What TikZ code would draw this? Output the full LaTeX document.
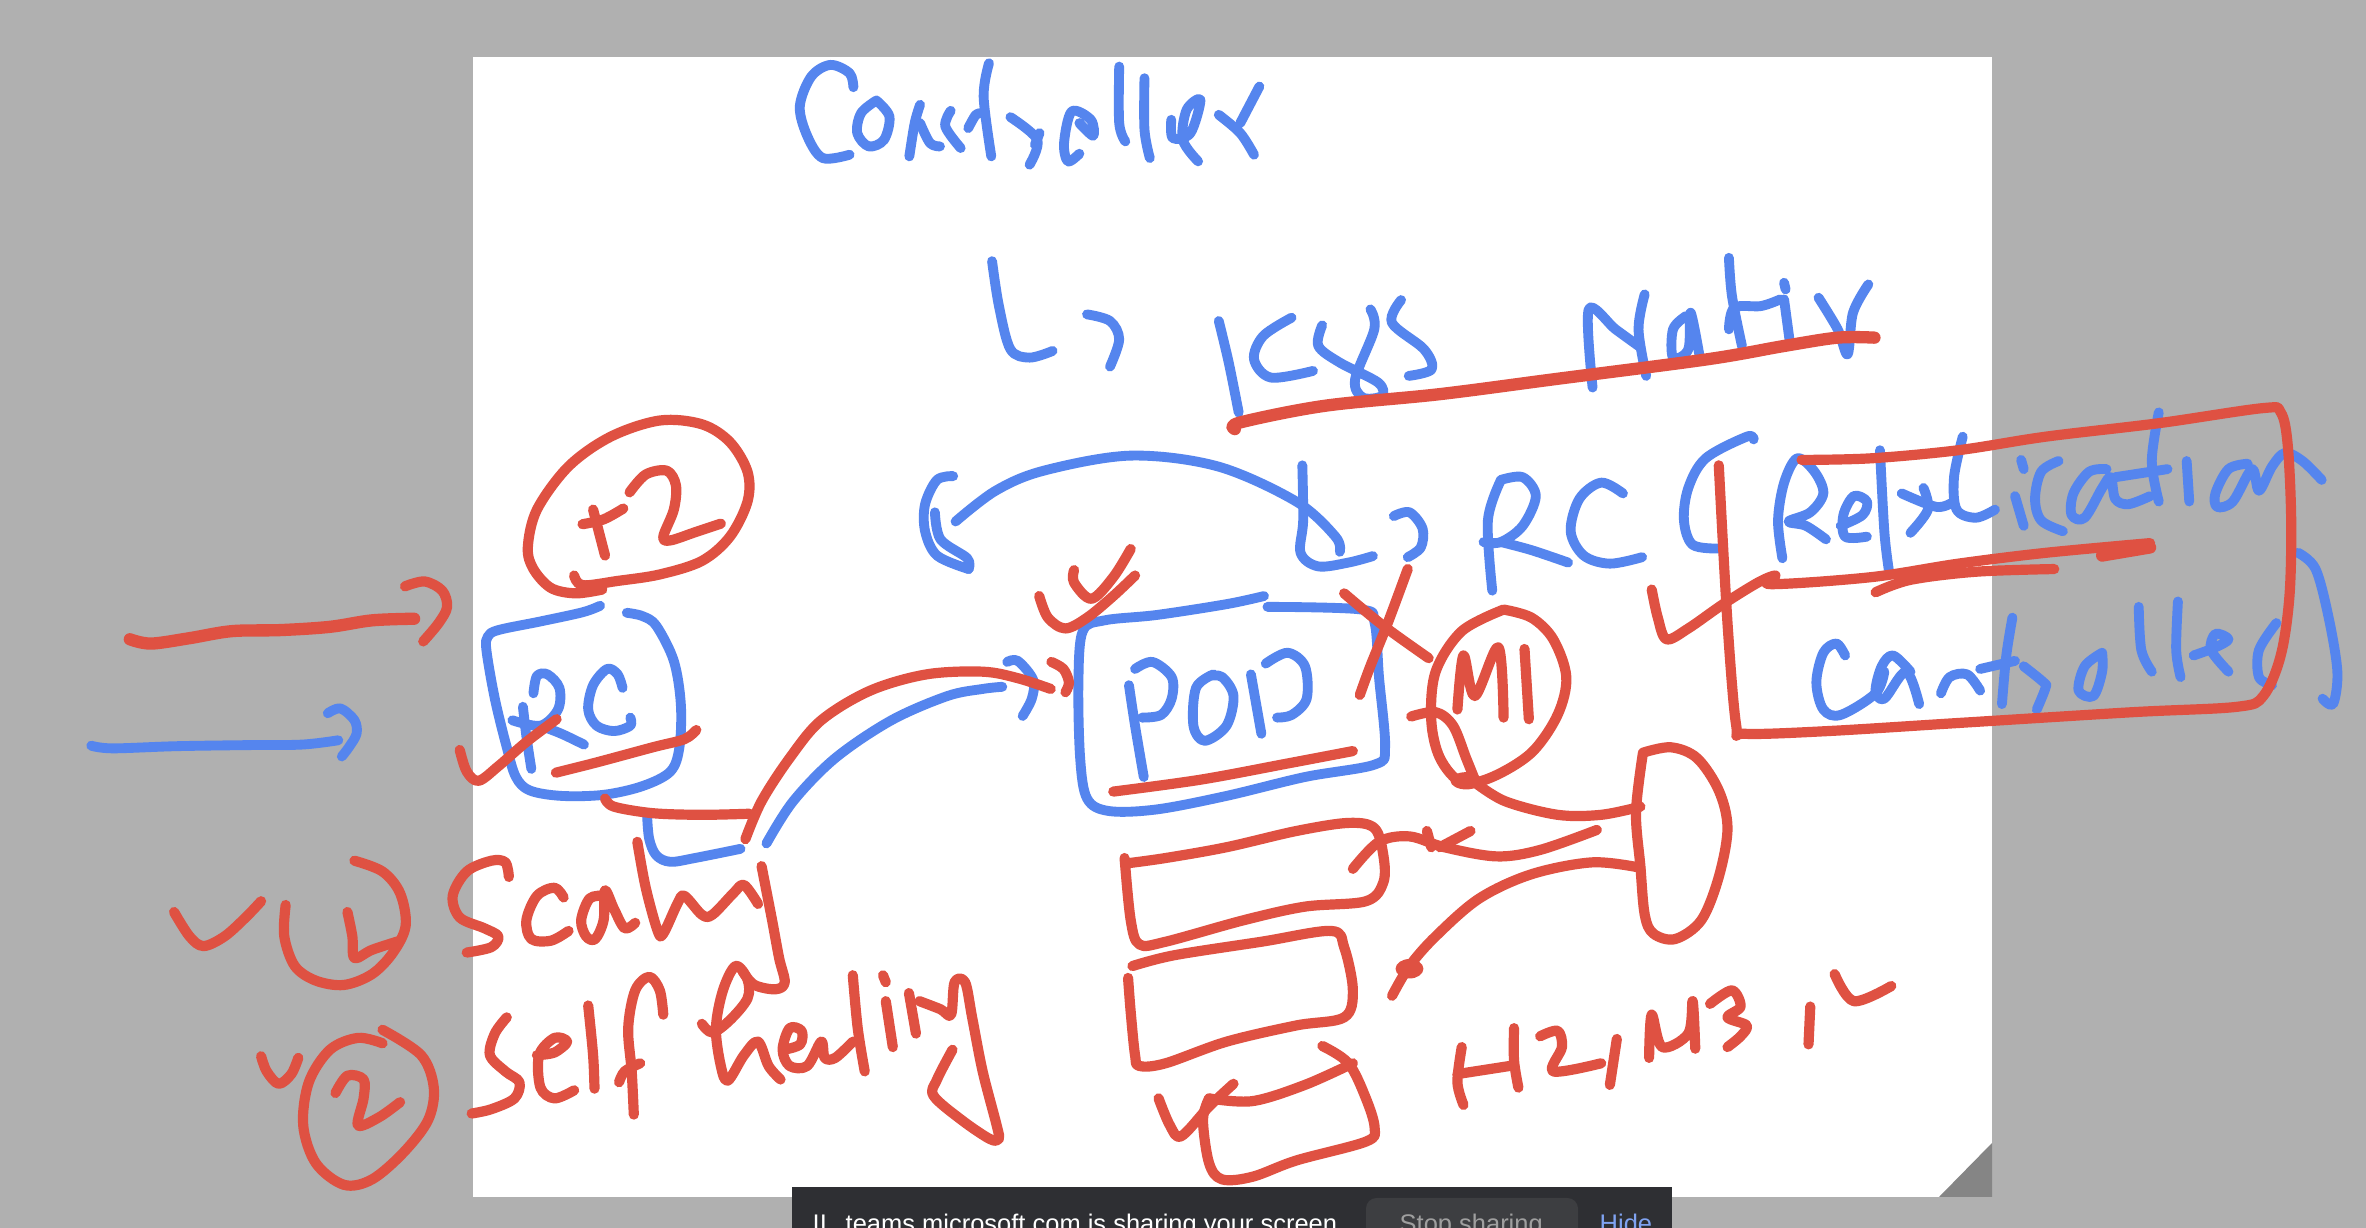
\documentclass[tikz,border=0pt]{standalone}
\usepackage{fontspec}
\setmainfont{Liberation Sans}
\definecolor{inkred}{HTML}{DF5142}
\definecolor{inkblue}{HTML}{5585EE}
\definecolor{deskgray}{HTML}{B0B0B0}
\definecolor{foldgray}{HTML}{858585}
\definecolor{barcol}{HTML}{2E2F33}
\definecolor{btncol}{HTML}{3D3E41}
\newcommand\stk[2]{\draw[#1] plot[smooth,tension=.55] coordinates {#2};}
\tikzset{
  rd/.style={draw=inkred,line width=2.9pt,line cap=round,line join=round},
  rdthick/.style={draw=inkred,line width=3.5pt,line cap=round,line join=round},
  bl/.style={draw=inkblue,line width=2.8pt,line cap=round,line join=round},
  zoomA/.style={shift={(0cm,-3.8cm)},x=0.007015cm,y=-0.005408cm},
  zoomB/.style={shift={(10cm,-3.8cm)},x=0.008712cm,y=-0.005408cm},
  zoomC/.style={shift={(7.5cm,-0.3cm)},x=0.007653cm,y=-0.003333cm},
  bartext/.style={font=\fontsize{7.25pt}{8pt}\selectfont,inner sep=0pt,anchor=base west}
}
\begin{document}
\begin{tikzpicture}
\useasboundingbox (0,0) rectangle (23.66,-12.28);
\clip (0,0) rectangle (23.66,-12.28);
\fill[deskgray] (0,0) rectangle (23.66,-12.28);
\fill[white] (4.73,-0.57) rectangle (19.92,-11.97);
\fill[foldgray] (19.39,-11.97) -- (19.92,-11.97) -- (19.92,-11.43) -- cycle;

% ---------- blue ink
\begin{scope}[zoomA]
\stk{bl}{(130,677) (160,682) (250,678) (350,676) (430,675) (482,667)}
\stk{bl}{(467,617) (485,608) (505,630) (508,655) (497,680) (487,697)}
\stk{bl}{(855,418) (830,430) (770,447) (710,463) (695,475) (693,500) (705,590) (722,680) (735,735) (755,760) (800,770) (860,768) (915,752) (955,725) (968,680) (970,600) (960,520) (935,455) (915,437) (893,431)}
\stk{bl}{(922,808) (925,850) (935,880) (955,892) (990,885) (1055,868)}
\stk{bl}{(745,605) (750,660) (757,720)}
\stk{bl}{(760,580) (765,548) (780,545) (797,570) (795,610) (770,640) (730,630)}
\stk{bl}{(770,640) (800,655) (832,675)}
\stk{bl}{(887,570) (880,545) (865,535) (845,565) (838,610) (850,640) (875,650) (898,640) (898,625)}
\stk{bl}{(1092,858) (1130,780) (1190,700) (1270,630) (1350,585) (1400,572) (1428,568)}
\stk{bl}{(1435,522) (1450,520) (1472,555) (1470,590) (1457,622)}
\stk{bl}{(1358,178) (1335,185) (1318,230) (1318,280) (1335,325) (1380,350)}
\stk{bl}{(1332,245) (1340,295) (1378,330) (1380,350)}
\end{scope}
\begin{scope}[zoomB]
\stk{bl}{(-51,262) (-5,205) (50,168) (150,140) (250,160) (340,225) (385,290) (390,318)}
\stk{bl}{(347,158) (348,260) (345,320) (365,345) (400,338) (428,326)}
\stk{bl}{(452,252) (470,245) (485,275) (483,310) (468,328)}
\stk{bl}{(575,185) (560,260) (565,390)}
\stk{bl}{(575,185) (600,180) (615,215) (600,270) (575,300) (555,300)}
\stk{bl}{(575,300) (610,315) (652,338)}
\stk{bl}{(715,210) (690,190) (665,220) (655,280) (670,325) (700,340) (737,328)}
\stk{bl}{(865,110) (857,105) (810,145) (790,200) (785,260) (795,305) (825,312)}
\stk{bl}{(898,330) (893,260) (900,190) (915,145) (935,170) (945,210) (930,245) (905,262) (925,270) (948,295)}
\stk{bl}{(965,270) (990,250) (995,225) (980,215) (968,250) (970,290) (995,290)}
\stk{bl}{(1010,130) (1015,280) (1020,350)}
\stk{bl}{(1060,200) (1065,240) (1045,283)}
\stk{bl}{(1035,210) (1075,235) (1095,225)}
\stk{bl}{(1105,105) (1095,180) (1098,240) (1120,255) (1142,240)}
\stk{bl}{(1165,215) (1175,270)}
\stk{bl}{(1172,148) (1175,165)}
\stk{bl}{(1215,150) (1195,170) (1188,220) (1195,260) (1220,280)}
\stk{bl}{(1270,165) (1250,170) (1232,210) (1230,250) (1245,255) (1265,200) (1275,180) (1280,220) (1295,230) (1320,215)}
\stk{bl}{(1330,60) (1322,150) (1330,225)}
\stk{bl}{(1280,180) (1340,165)}
\stk{bl}{(1362,150) (1365,225)}
\stk{bl}{(1432,155) (1410,165) (1395,210) (1397,235) (1415,225) (1437,165) (1445,205) (1460,160) (1475,135) (1495,150) (1517,185)}
\stk{bl}{(970,510) (960,488) (945,505) (937,560) (945,610) (965,620) (1005,580) (1015,540)}
\stk{bl}{(1045,540) (1025,510) (1012,530) (1005,575) (1015,590) (1040,540) (1055,600)}
\stk{bl}{(1080,580) (1090,550) (1110,545) (1125,575)}
\stk{bl}{(1162,440) (1155,510) (1150,600)}
\stk{bl}{(1125,535) (1165,520)}
\stk{bl}{(1175,530) (1198,560) (1200,570) (1190,610)}
\stk{bl}{(1265,505) (1245,530) (1238,575) (1255,585) (1265,540) (1265,505)}
\stk{bl}{(1307,420) (1310,500) (1322,540)}
\stk{bl}{(1352,410) (1350,500) (1355,550)}
\stk{bl}{(1370,510) (1395,495) (1410,480) (1395,470) (1390,500) (1410,540)}
\stk{bl}{(1465,450) (1445,500) (1445,550) (1460,565)}
\stk{bl}{(1490,320) (1510,350) (1525,440) (1535,540) (1530,600) (1518,590)}
\stk{bl}{(303,400) (260,415) (180,435) (120,445) (95,465) (90,560) (92,700) (100,775) (125,798) (180,795) (260,770) (350,735) (430,712) (442,680) (435,550) (430,450) (415,425) (307,420)}
\stk{bl}{(148,565) (155,640) (165,735)}
\stk{bl}{(155,535) (175,522) (197,550) (197,590) (185,620) (163,625)}
\stk{bl}{(245,545) (225,570) (222,640) (235,668) (260,640) (268,585) (255,550) (240,548)}
\stk{bl}{(288,545) (300,655)}
\stk{bl}{(305,525) (330,505) (350,530) (352,590) (335,620) (318,625)}
\end{scope}
\begin{scope}[zoomC]
\stk{bl}{(135,172) (130,130) (105,105) (80,140) (65,230) (75,320) (95,385) (130,375)}
\stk{bl}{(165,212) (145,250) (140,310) (155,350) (175,330) (182,260) (165,212)}
\stk{bl}{(208,380) (215,280) (222,225)}
\stk{bl}{(222,280) (235,340) (248,350)}
\stk{bl}{(262,243) (255,290) (275,355)}
\stk{bl}{(285,295) (295,255) (305,250)}
\stk{bl}{(312,100) (305,200) (315,380)}
\stk{bl}{(340,262) (375,330) (365,405)}
\stk{bl}{(378,310) (372,345)}
\stk{bl}{(430,372) (415,395) (410,340) (420,245) (445,270) (448,318) (430,280)}
\stk{bl}{(482,110) (482,280) (490,335)}
\stk{bl}{(515,145) (515,300) (522,385)}
\stk{bl}{(550,270) (552,325) (575,310) (588,210) (570,240) (565,330) (585,395)}
\stk{bl}{(612,255) (640,310) (658,375)}
\stk{bl}{(665,170) (640,280)}
\stk{bl}{(316,695) (325,830) (340,960) (365,985) (395,965)}
\stk{bl}{(440,855) (470,875) (482,930) (470,1012)}
\stk{bl}{(612,875) (625,1000) (638,1150)}
\stk{bl}{(707,865) (670,920) (658,990) (680,1045) (735,1025)}
\stk{bl}{(747,888) (742,950) (770,1000) (820,1060) (825,1100) (800,1105) (790,1050) (815,900) (810,840)}
\stk{bl}{(850,812) (838,880) (880,960) (890,1020) (860,1040)}
\stk{bl}{(1100,1075) (1095,840) (1130,900) (1160,950)}
\stk{bl}{(1168,795) (1160,900) (1170,1040)}
\stk{bl}{(1222,860) (1205,900) (1205,985) (1225,960) (1228,850) (1240,985)}
\stk{bl}{(1278,685) (1282,800) (1295,950)}
\stk{bl}{(1278,900) (1285,835) (1320,830) (1345,810)}
\stk{bl}{(1350,810) (1357,930)}
\stk{bl}{(1350,760) (1352,780)}
\stk{bl}{(1395,805) (1420,900) (1433,975) (1440,850) (1460,765)}
\end{scope}

% ---------- red ink
\begin{scope}[zoomC]
\stk{rdthick}{(633,1200) (640,1180) (750,1130) (900,1095) (1050,1050) (1250,990) (1350,950) (1420,925) (1468,925)}
\end{scope}
\begin{scope}[zoomA]
\stk{rdthick}{(185,480) (215,488) (270,478) (330,465) (400,463) (470,457) (530,445) (590,442)}
\stk{rd}{(577,382) (605,373) (630,390) (637,420) (625,450) (603,484)}
\stk{rd}{(858,388) (820,395) (785,385) (760,350) (752,310) (765,240) (810,160) (870,105) (940,75) (1000,82) (1040,115) (1065,170) (1065,225) (1040,290) (1000,335) (940,360) (880,372) (830,380) (818,362)}
\stk{rd}{(845,240) (853,280) (862,325)}
\stk{rd}{(830,267) (860,258) (888,238)}
\stk{rd}{(897,208) (920,175) (950,168) (963,195) (960,240) (945,290) (955,297) (990,282) (1027,266)}
\stk{rd}{(655,685) (665,725) (682,742) (710,715) (750,670) (793,628)}
\stk{rd}{(792,727) (850,708) (930,680) (975,665) (992,648)}
\stk{rd}{(862,775) (875,790) (930,802) (1000,805) (1068,803)}
\stk{rd}{(1062,850) (1085,780) (1125,700) (1170,630) (1240,575) (1320,545) (1400,540) (1450,552) (1497,572)}
\stk{rd}{(1498,522) (1515,535) (1523,560) (1518,578)}
\stk{rd}{(248,985) (270,1030) (290,1048) (320,1030) (350,995) (372,965)}
\stk{rd}{(407,972) (405,1030) (420,1085) (450,1112) (490,1120) (530,1100) (560,1060) (578,1010) (570,950) (545,910) (505,890)}
\stk{rd}{(495,985) (502,1030) (505,1070) (530,1055) (570,1038)}
\stk{rd}{(725,920) (720,893) (700,890) (665,910) (645,955) (655,995) (690,1015) (710,1030) (700,1050) (665,1060)}
\stk{rd}{(803,958) (790,940) (765,955) (750,1000) (757,1035) (785,1038) (810,1020)}
\stk{rd}{(860,955) (840,960) (828,1000) (835,1030) (848,1035) (860,1000) (862,945) (875,980) (890,1015) (905,1005)}
\stk{rd}{(908,855) (920,940) (937,1020) (945,1025) (965,970) (975,955) (1000,990) (1015,990) (1045,950) (1060,935) (1080,970)}
\stk{rd}{(1085,900) (1100,1000) (1110,1070) (1118,1115) (1105,1128) (1075,1120) (1058,1095)}
\stk{rd}{(1000,1192) (1015,1208) (1040,1185) (1065,1145) (1065,1110) (1048,1085) (1030,1130) (1020,1200) (1027,1270) (1037,1297) (1060,1250) (1080,1225) (1095,1270) (1112,1295)}
\stk{rd}{(1117,1240) (1140,1230) (1142,1205) (1125,1200) (1115,1240) (1125,1270) (1150,1270) (1170,1225) (1175,1255) (1190,1255) (1215,1225)}
\stk{rd}{(1215,1102) (1222,1200) (1232,1280)}
\stk{rd}{(1262,1150) (1272,1235)}
\stk{rd}{(1258,1102) (1262,1115)}
\stk{rd}{(1295,1135) (1305,1210)}
\stk{rd}{(1310,1150) (1340,1165) (1355,1175) (1360,1115) (1375,1115) (1385,1180) (1400,1280) (1420,1380) (1423,1405) (1410,1405) (1370,1370) (1330,1325) (1335,1295) (1357,1240)}
\stk{rd}{(722,1180) (705,1210) (698,1250) (720,1280) (740,1300) (733,1330) (700,1350) (672,1358)}
\stk{rd}{(765,1250) (790,1245) (808,1225) (790,1218) (768,1250) (770,1310) (790,1330) (818,1315)}
\stk{rd}{(838,1158) (845,1250) (847,1312)}
\stk{rd}{(945,1175) (940,1130) (925,1105) (905,1130) (895,1200) (900,1280) (903,1360)}
\stk{rd}{(882,1300) (890,1280) (912,1265)}
\stk{rd}{(372,1252) (380,1280) (397,1303) (415,1285) (425,1255)}
\stk{rd}{(545,1228) (510,1218) (470,1240) (440,1300) (432,1380) (450,1450) (490,1490) (530,1480) (575,1430) (610,1370) (618,1310) (600,1250) (545,1203)}
\stk{rd}{(478,1320) (495,1288) (518,1295) (518,1330) (510,1380) (540,1365) (570,1337)}
\end{scope}
\begin{scope}[zoomB]
\stk{rd}{(920,148) (1000,145) (1100,130) (1200,105) (1330,80) (1450,52) (1470,60) (1478,120) (1482,260) (1480,400) (1470,510) (1450,585) (1420,605) (1300,615) (1100,635) (950,650) (855,655) (845,640) (835,450) (825,158)}
\stk{rd}{(1005,393) (1045,370) (1120,355) (1210,350)}
\stk{rd}{(748,388) (755,440) (765,480) (790,460) (830,415) (870,375) (890,362) (885,378) (1000,365) (1100,340) (1200,320) (1320,302)}
\stk{rdthick}{(1265,325) (1320,310)}
\stk{rd}{(395,395) (440,455) (492,515)}
\stk{rd}{(468,350) (445,450) (425,530) (413,583)}
\stk{rd}{(130,762) (230,740) (330,710) (405,687)}
\stk{rd}{(85,352) (85,375) (105,405) (130,365) (150,313)}
\stk{rd}{(45,400) (55,440) (75,460) (100,440) (130,400) (155,362)}
\stk{rd}{(578,425) (530,465) (500,540) (495,630) (505,700) (530,745) (565,735) (610,690) (640,620) (650,550) (635,480) (610,440) (578,425)}
\stk{rd}{(525,610) (532,510) (545,585) (572,495) (578,625)}
\stk{rd}{(602,498) (607,628)}
\stk{rd}{(472,623) (500,615) (520,640) (535,700) (545,740)}
\stk{rd}{(545,745) (580,780) (640,805) (690,805) (735,790)}
\fill[inkred] (535,742) ellipse [x radius=18,y radius=16];
\stk{rd}{(738,690) (770,680) (800,700) (825,760) (835,830) (825,920) (805,1000) (775,1035) (750,1025) (740,990) (735,900) (730,800) (738,690)}
\stk{rd}{(685,833) (620,870) (570,882) (510,865) (470,845) (435,855) (405,905)}
\stk{rd}{(490,835) (495,865)}
\stk{rd}{(540,835) (505,865)}
\stk{rd}{(735,903) (680,893) (610,915) (550,960) (500,1030) (470,1085) (450,1140)}
\fill[inkred] (470,1090) ellipse [x radius=16,y radius=18];
\stk{rd}{(143,885) (150,1000) (160,1045) (190,1040) (280,1000) (350,975) (420,965) (440,930) (440,880) (430,830) (400,820) (340,835) (260,865) (190,885) (145,895)}
\stk{rd}{(152,1085) (200,1065) (300,1040) (380,1020) (395,1050) (405,1130) (395,1180) (340,1195) (260,1225) (190,1265) (160,1270) (155,1250) (150,1170) (147,1107)}
\stk{rd}{(370,1233) (400,1265) (420,1330) (430,1385) (420,1410) (340,1445) (290,1475) (255,1480) (240,1450) (233,1370) (240,1330)}
\stk{rd}{(240,1330) (290,1335) (350,1305) (405,1265)}
\stk{rd}{(182,1330) (195,1380) (208,1400) (240,1345) (268,1303)}
\stk{rd}{(530,1235) (525,1300) (532,1342)}
\stk{rd}{(525,1285) (585,1270)}
\stk{rd}{(590,1200) (590,1260) (595,1310)}
\stk{rd}{(620,1215) (640,1205) (645,1235) (635,1280) (690,1265)}
\stk{rd}{(708,1220) (700,1305)}
\stk{rd}{(745,1255) (748,1175) (760,1235) (790,1210) (795,1150) (798,1238)}
\stk{rd}{(815,1155) (840,1130) (850,1160) (835,1180) (857,1195) (850,1215) (835,1235)}
\stk{rd}{(930,1160) (928,1230)}
\stk{rd}{(958,1100) (980,1150) (1023,1122)}
\end{scope}

% ---------- screen sharing bar
\fill[barcol] (7.92,-11.87) rectangle (16.72,-12.28);
\fill[btncol,rounded corners=3pt] (13.66,-11.98) rectangle (15.78,-12.6);
\node[bartext,text=white] (pausemark) at (8.12,-12.33) {II};
\node[bartext,text=white] (sharemsg) at (8.45,-12.33) {teams.microsoft.com is sharing your screen};
\node[bartext,text=gray!75] (stopbtn) at (13.99,-12.33) {Stop sharing};
\node[bartext,text=inkblue!75!white] (hidebtn) at (15.99,-12.33) {Hide};
\end{tikzpicture}
\end{document}
